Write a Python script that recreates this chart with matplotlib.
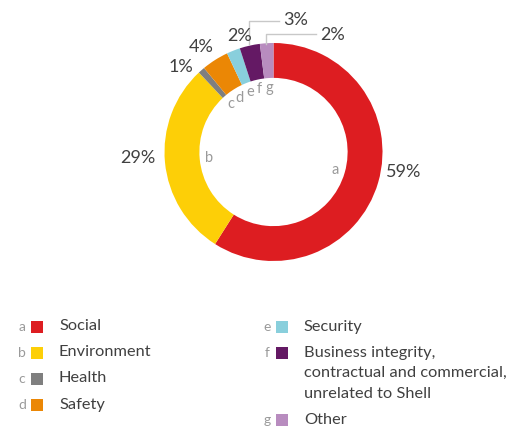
import numpy as np
import matplotlib
matplotlib.use("Agg")
import matplotlib.pyplot as plt
from matplotlib.patches import Rectangle

plt.rcParams['font.family'] = ['Lato', 'DejaVu Sans']

# data
letters = ['a', 'b', 'c', 'd', 'e', 'f', 'g']
categories = ['Social', 'Environment', 'Health', 'Safety', 'Security',
              'Business integrity,\ncontractual and commercial,\nunrelated to Shell',
              'Other']
values = [59, 29, 1, 4, 2, 3, 2]
pct_labels = ['59%', '29%', '1%', '4%', '2%', '3%', '2%']
colors = ['#DD1D21', '#FDCF07', '#7F7F7F', '#EB8705', '#89CFDC', '#641964', '#B88CBF']

W, H = 527, 429
fig = plt.figure(figsize=(W / 100, H / 100), dpi=100)

# donut
cx, cy, R = 273.5, 152, 109
pax = fig.add_axes([(cx - R) / W, (H - cy - R) / H, 2 * R / W, 2 * R / H])
wedges, _ = pax.pie(values, colors=colors, startangle=90, counterclock=False,
                    radius=1, wedgeprops=dict(width=0.32, linewidth=0))
pax.set_xlim(-1, 1)
pax.set_ylim(-1, 1)
pax.set_aspect('equal')
pax.axis('off')

# letters inside the ring
for w, let in zip(wedges, letters):
    ang = np.deg2rad((w.theta1 + w.theta2) / 2)
    pax.text(0.59 * np.cos(ang), 0.59 * np.sin(ang), let, ha='center', va='center',
             fontsize=10.5, color='#9a9a9a')

# overlay in pixel coords
ax = fig.add_axes([0, 0, 1, 1])
ax.set_xlim(0, W)
ax.set_ylim(H, 0)
ax.axis('off')

# percentage labels
pct_pos = [(404, 172), (138, 158), (181, 67), (201, 47), (240, 36), (296, 20), (333, 35)]
for (x, y), t in zip(pct_pos, pct_labels):
    ax.text(x, y, t, ha='center', va='center', fontsize=13, color='#404040')

# leader lines for f and g
ax.plot([249, 249, 279], [44, 21, 21], color='#c8c8c8', lw=1)
ax.plot([266, 266, 316], [44, 34, 34], color='#c8c8c8', lw=1)

# legend
left_rows = [327, 353, 379, 405]
right_rows = [327, 353, 420]
legend_pos = [(22, 31, 59, y) for y in left_rows] + \
             [(267, 276, 304, y) for y in right_rows]
for (lx, sx, tx, y), let, cat, c in zip(legend_pos, letters, categories, colors):
    ax.text(lx, y, let, ha='center', va='center', fontsize=10, color='#9a9a9a')
    ax.add_patch(Rectangle((sx, y - 6), 12, 12, facecolor=c, edgecolor='none'))
    ax.text(tx, y - 7.5, cat, ha='left', va='top', fontsize=11.8, color='#404040',
            linespacing=1.6)

fig.savefig('out.png', dpi=100)
